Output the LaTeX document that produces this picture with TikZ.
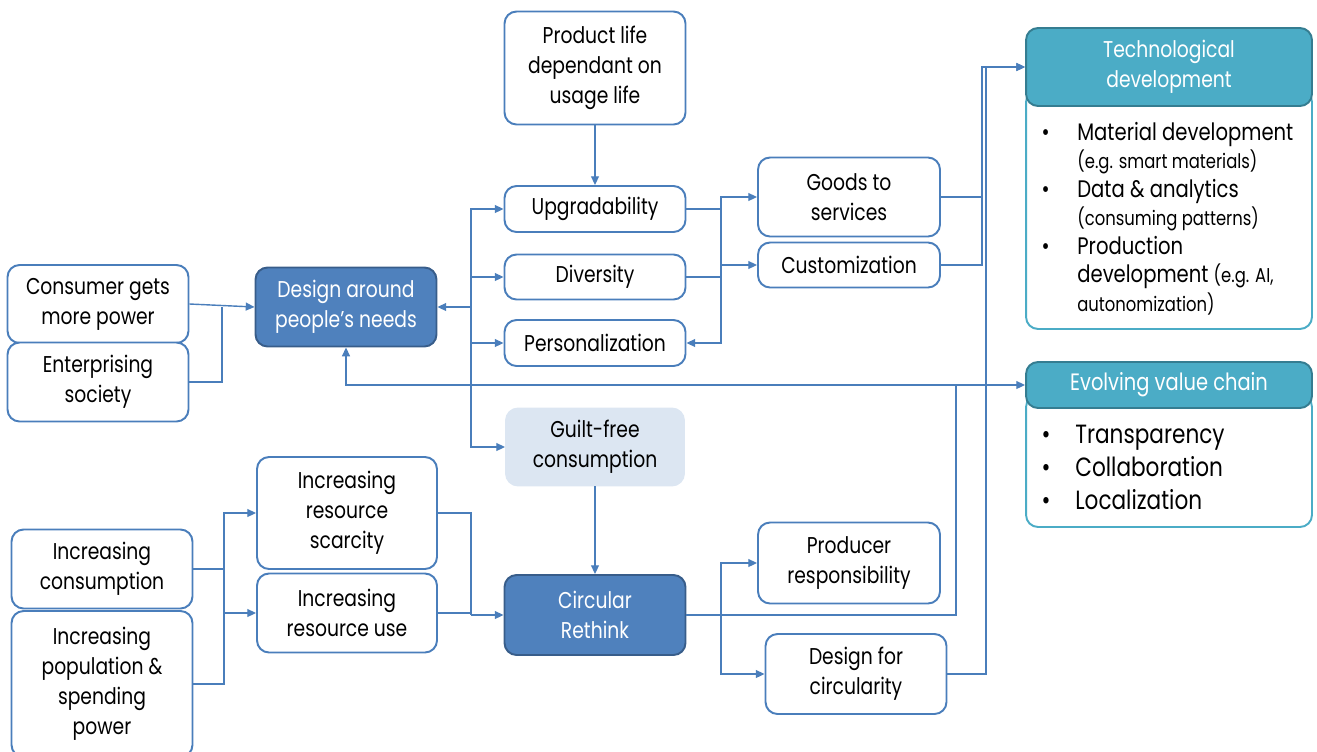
\documentclass[tikz,border=0pt]{standalone}
\usepackage{fontspec}
\setmainfont{Poppins}[FakeStretch=0.82]
\usetikzlibrary{arrows.meta,positioning,calc}
\definecolor{linkblue}{HTML}{4A7EBB}
\definecolor{darkblue}{HTML}{4F81BD}
\definecolor{darkedge}{HTML}{385D8A}
\definecolor{paleblue}{HTML}{DCE6F2}
\definecolor{teal}{HTML}{4BACC6}
\definecolor{tealedge}{HTML}{357D91}

\begin{document}
\begin{tikzpicture}[x=0.02cm, y=-0.02cm,
        box/.style={rectangle, draw=linkblue, line width=1.1pt, rounded corners=0.24cm, fill=white,
            align=center, inner sep=2pt, font=\fontsize{13}{17}\selectfont},
        darkbox/.style={box, draw=darkedge, fill=darkblue, text=white},
        palebox/.style={box, draw=paleblue, fill=paleblue},
        tealhead/.style={box, draw=tealedge, fill=teal, text=white, minimum width=5.72cm},
        tealbody/.style={box, draw=teal, minimum width=5.72cm},
        wire/.style={draw=linkblue, line width=0.8pt},
        flow/.style={wire, -{Triangle[length=5pt, width=4.5pt]}}]
    \useasboundingbox (0,0) rectangle (1317,751);

    % top branch
    \node[box, minimum width=3.62cm, minimum height=2.26cm] (life) at (595,68) {Product life\\dependant on\\usage life};
    \node[box, minimum width=3.62cm, minimum height=0.92cm] (upgrade) at (595,209) {Upgradability};
    \node[box, minimum width=3.62cm, minimum height=0.9cm] (diversity) at (595,277) {Diversity};
    \node[box, minimum width=3.62cm, minimum height=0.92cm] (personal) at (595,343) {Personalization};
    \node[box, minimum width=3.64cm, minimum height=1.58cm] (goods) at (849,197) {Goods to\\services};
    \node[box, minimum width=3.64cm, minimum height=0.9cm] (custom) at (849,265) {Customization};

    % left side
    \node[box, minimum width=3.62cm, minimum height=1.56cm] (consumer) at (98,304) {Consumer gets\\more power};
    \node[box, minimum width=3.62cm, minimum height=1.58cm] (enterprise) at (98,382) {Enterprising\\society};
    \node[darkbox, minimum width=3.62cm, minimum height=1.58cm] (design) at (346,307) {Design around\\people’s needs};
    \node[palebox, minimum width=3.56cm, minimum height=1.54cm] (guilt) at (595,447) {Guilt-free\\consumption};

    % bottom branch
    \node[box, minimum width=3.6cm, minimum height=2.24cm] (scarcity) at (347,513) {Increasing\\resource\\scarcity};
    \node[box, minimum width=3.6cm, minimum height=1.58cm] (use) at (347,613) {Increasing\\resource use};
    \node[box, minimum width=3.62cm, minimum height=1.58cm] (consumption) at (102,569) {Increasing\\consumption};
    \node[box, minimum width=3.62cm, minimum height=2.92cm] (population) at (102,684) {Increasing\\population \&\\spending\\power};
    \node[darkbox, minimum width=3.62cm, minimum height=1.6cm] (rethink) at (595,615) {Circular\\Rethink};
    \node[box, minimum width=3.64cm, minimum height=1.62cm] (producer) at (849,563) {Producer\\responsibility};
    \node[box, minimum width=3.62cm, minimum height=1.6cm] (circularity) at (856,674) {Design for\\circularity};

    % right panels
    \node[tealbody, minimum height=4.78cm] (techbody) at (1169,209.5) {};
    \node[tealhead, minimum height=1.56cm] (techhead) at (1169,67) {Technological\\development};
    \node[anchor=north west, inner sep=0pt, font=\fontsize{13.6}{15}\selectfont] (techlist) at (1036,120) {%
        \renewcommand{\arraystretch}{1.08}%
        \begin{tabular}{@{}p{0.82cm}@{}l@{}}
            \hspace{3pt}\textbullet & Material development \\
            & {\fontsize{11.4}{12}\selectfont (e.g. smart materials)} \\
            \hspace{3pt}\textbullet & Data \& analytics \\
            & {\fontsize{11.4}{12}\selectfont (consuming patterns)} \\
            \hspace{3pt}\textbullet & Production \\
            & development {\fontsize{11.4}{12}\selectfont (e.g. AI,} \\
            & {\fontsize{11.4}{12}\selectfont autonomization)} \\
        \end{tabular}};
    \node[tealbody, minimum height=2.64cm] (valuebody) at (1169,461) {};
    \node[tealhead, minimum height=0.92cm, font=\fontsize{13.5}{17}\selectfont] (valuehead) at (1169,385) {Evolving value chain};
    \node[anchor=north west, inner sep=0pt, font=\fontsize{15}{17}\selectfont] (valuelist) at (1036,420) {%
        \renewcommand{\arraystretch}{1.1}%
        \begin{tabular}{@{}p{0.78cm}@{}l@{}}
            \hspace{3pt}\textbullet & Transparency \\
            \hspace{3pt}\textbullet & Collaboration \\
            \hspace{3pt}\textbullet & Localization \\
        \end{tabular}};

    % junctions
    \coordinate (hubL) at (222,307);
    \coordinate (hubD) at (471,307);
    \coordinate (hubU) at (721,265);
    \coordinate (hubT) at (982,67);
    \coordinate (hubF) at (986,67);
    \coordinate (hubV) at (956,385);
    \coordinate (hubR) at (721,615);
    \coordinate (hubC) at (224,613);
    \coordinate (hubS) at (471,615);

    \draw[flow] (life) -- (upgrade);
    \draw[flow] (guilt) -- (rethink);

    \draw[flow] (consumer.east) -- (design.west);
    \draw[wire] (enterprise.east) -| (hubL);

    \draw[flow] (hubD) -- (design.east);
    \draw[flow] (hubD) |- (upgrade.west);
    \draw[flow] (hubD) |- (diversity.west);
    \draw[flow] (hubD) |- (personal.west);
    \draw[flow] (hubD) |- (guilt.west);

    \draw[wire] (upgrade.east) -| (hubU);
    \draw[wire] (diversity.east) -| (hubU);
    \draw[flow] (hubU) |- (goods.west);
    \draw[flow] (hubU) -- (custom.west);
    \draw[flow] (hubU) |- (personal.east);

    \draw[flow] (goods.east) -| (hubT) -- (techhead.west);
    \draw[wire] (custom.east) -| (hubT);
    \draw[flow] (circularity.east) -| (hubF) -- (techhead.west);

    \draw[flow] (rethink.east) -| (hubV) -- (valuehead.west);
    \draw[flow] (hubV) -| (design.south);
    \draw[flow] (hubR) |- (producer.west);
    \draw[flow] (hubR) |- (circularity.west);

    \draw[wire] (consumption.east) -| (hubC);
    \draw[wire] (population.east) -| (hubC);
    \draw[flow] (hubC) |- (scarcity.west);
    \draw[flow] (hubC) -- (use.west);

    \draw[wire] (scarcity.east) -| (hubS);
    \draw[wire] (use.east) -| (hubS);
    \draw[flow] (hubS) -- (rethink.west);
\end{tikzpicture}
\end{document}
